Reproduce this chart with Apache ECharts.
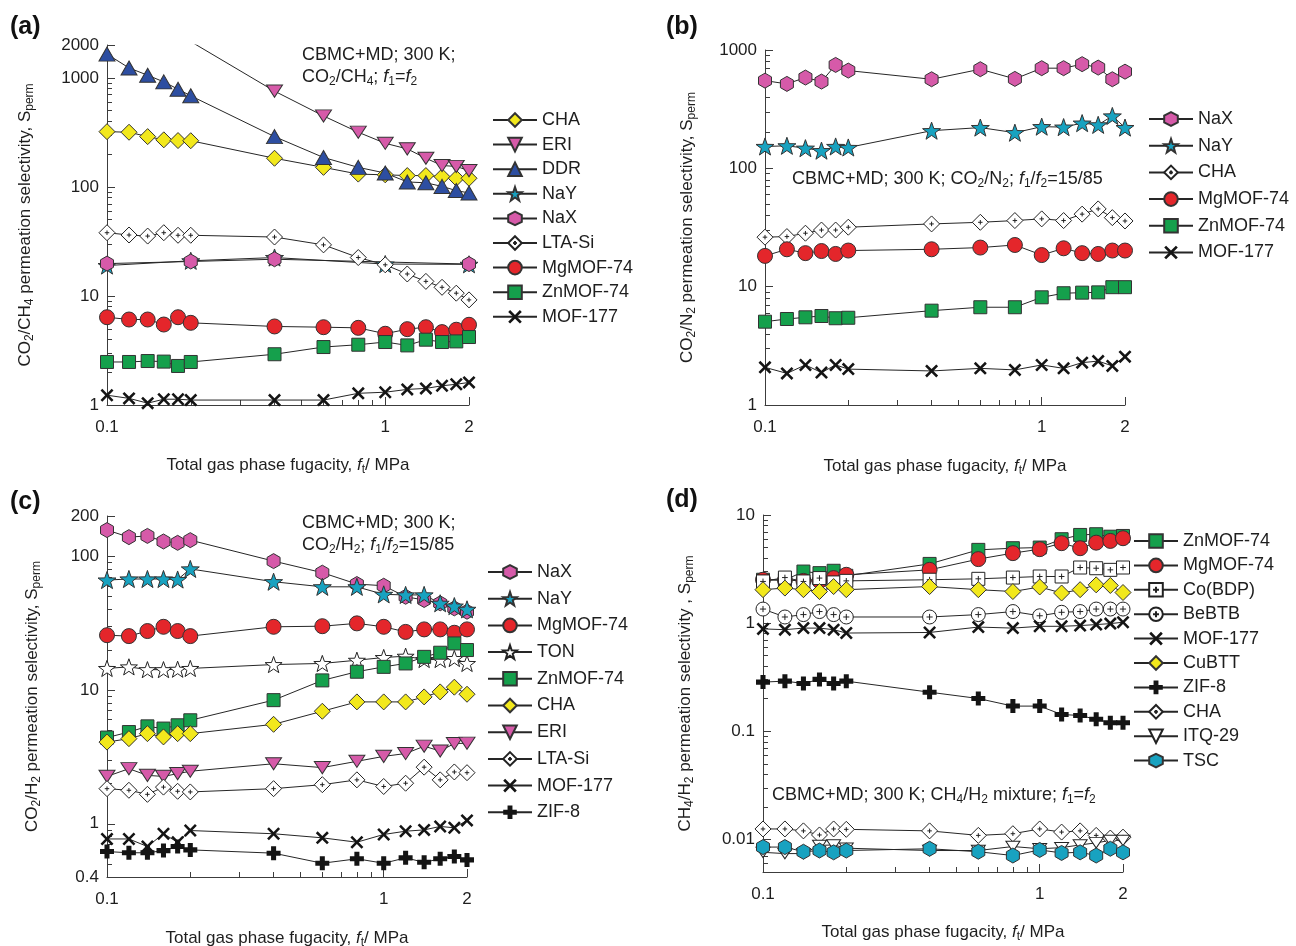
<!DOCTYPE html>
<html>
<head>
<meta charset="utf-8">
<script src="https://cdn.jsdelivr.net/npm/echarts@6/dist/echarts.min.js"></script>
<style>
  html, body { margin: 0; padding: 0; background: #ffffff; }
  #chart { width: 1296px; height: 946px; }
</style>
</head>
<body>
<div id="chart"></div>
<script>
// ---------- shared x values (total gas phase fugacity, MPa) ----------
const fugacity = [0.1, 0.12, 0.14, 0.16, 0.18, 0.2, 0.4, 0.6, 0.8, 1, 1.2, 1.4, 1.6, 1.8, 2];

// ---------- tick values ----------
const xMajorTicks = [0.1, 1, 2];
const xMinorTicks = [0.2, 0.3, 0.4, 0.5, 0.6, 0.7, 0.8, 0.9];
const aYMajor = [1, 10, 100, 1000, 2000];
const aYMinor = [2, 3, 4, 5, 6, 7, 8, 9, 20, 30, 40, 50, 60, 70, 80, 90, 200, 300, 400, 500, 600, 700, 800, 900];
const bYMajor = [1, 10, 100, 1000];
const bYMinor = [2, 3, 4, 5, 6, 7, 8, 9, 20, 30, 40, 50, 60, 70, 80, 90, 200, 300, 400, 500, 600, 700, 800, 900];
const cYMajor = [0.4, 1, 10, 100, 200];
const cYMinor = [0.5, 0.6, 0.7, 0.8, 0.9, 2, 3, 4, 5, 6, 7, 8, 9, 20, 30, 40, 50, 60, 70, 80, 90];
const dYMajor = [0.01, 0.1, 1, 10];
const dYMinor = [0.006, 0.007, 0.008, 0.009, 0.02, 0.03, 0.04, 0.05, 0.06, 0.07, 0.08, 0.09,
                 0.2, 0.3, 0.4, 0.5, 0.6, 0.7, 0.8, 0.9, 2, 3, 4, 5, 6, 7, 8, 9];

// ---------- (a) CO2/CH4, f1 = f2 ----------
const aCHA    = [321, 317, 289, 270, 266, 265, 183, 151, 131, 129, 127, 127, 124, 120, 120];
const aERIx   = [0.2, 0.4, 0.6, 0.8, 1, 1.2, 1.4, 1.6, 1.8, 2];
const aERI    = [2150, 755, 447, 317, 251, 223, 183, 157, 154, 141];
const aDDR    = [1650, 1232, 1056, 918, 787, 684, 289, 186, 151, 134, 111, 109, 101, 92.5, 88];
const aNaYx   = [0.1, 0.2, 0.4, 1, 2];
const aNaY    = [19, 21, 22.5, 19.6, 19.5];
const aNaXx   = [0.1, 0.2, 0.4, 2];
const aNaX    = [19.8, 20.7, 21.7, 19.6];
const aLTASi  = [38, 36.2, 35.4, 38, 36, 36, 34.7, 29.4, 22.5, 19.3, 15.9, 13.6, 12, 10.6, 9.2];
const aMgMOF  = [6.38, 6.08, 6.08, 5.47, 6.38, 5.67, 5.25, 5.17, 5.1, 4.5, 4.96, 5.17, 4.66, 4.9, 5.44];
const aZnMOF  = [2.48, 2.48, 2.53, 2.5, 2.28, 2.48, 2.92, 3.4, 3.57, 3.78, 3.52, 3.97, 3.78, 3.83, 4.2];
const aMOF177 = [1.23, 1.15, 1.04, 1.13, 1.13, 1.11, 1.11, 1.11, 1.28, 1.31, 1.39, 1.42, 1.5, 1.55, 1.61];

// ---------- (b) CO2/N2, f1/f2 = 15/85 ----------
const bNaX    = [551, 517, 585, 541, 748, 670, 566, 688, 570, 702, 702, 759, 710, 566, 656];
const bNaY    = [153, 155, 148, 141, 153, 150, 208, 221, 200, 225, 223, 241, 233, 277, 221];
const bCHA    = [26.2, 26.5, 28.3, 30.1, 30.1, 31.8, 33.9, 35, 36.2, 37.4, 36.2, 41, 45.4, 38.3, 35.9];
const bMgMOF  = [18.2, 20.7, 19.2, 20, 18.9, 20.2, 20.7, 21.4, 22.5, 18.5, 21.1, 19.2, 18.9, 20.2, 20.2];
const bZnMOF  = [5.06, 5.33, 5.51, 5.65, 5.41, 5.46, 6.27, 6.7, 6.7, 8.13, 8.8, 8.9, 8.95, 9.9, 9.9];
const bMOF177 = [2.08, 1.85, 2.18, 1.88, 2.18, 2.01, 1.94, 2.04, 1.98, 2.18, 2.04, 2.28, 2.35, 2.14, 2.56];

// ---------- (c) CO2/H2, f1/f2 = 15/85 ----------
const cNaX    = [157, 139, 142, 129, 126, 132, 92, 75.4, 62, 60.2, 49.8, 47.1, 44.5, 40.8, 38.5];
const cNaY    = [66.4, 67.6, 67.6, 67.6, 67, 80.4, 64.5, 59.1, 59.1, 51.9, 51.4, 51.4, 44.5, 42.4, 40.1];
const cMgMOF  = [25.7, 25.3, 27.6, 29.7, 27.6, 25.3, 29.7, 30, 31.5, 29.7, 27.2, 28.4, 28.4, 26.8, 28.4];
const cTON    = [14.5, 14.9, 14.2, 14.2, 14.3, 14.5, 15.5, 15.8, 16.7, 17.5, 17.9, 16.9, 16.9, 17.2, 15.8];
const cZnMOF  = [4.41, 4.85, 5.35, 5.15, 5.45, 5.94, 8.4, 11.8, 13.7, 14.9, 15.8, 17.7, 19, 22.3, 19.9];
const cCHA    = [4.08, 4.33, 4.72, 4.46, 4.72, 4.72, 5.54, 6.94, 8.15, 8.15, 8.15, 8.88, 9.68, 10.5, 9.3];
const cERI    = [2.26, 2.58, 2.3, 2.26, 2.37, 2.47, 2.81, 2.63, 2.93, 3.19, 3.35, 3.8, 3.5, 3.98, 4.0];
const cLTASi  = [1.83, 1.78, 1.66, 1.88, 1.75, 1.73, 1.83, 1.96, 2.13, 1.9, 2.01, 2.65, 2.13, 2.44, 2.41];
const cMOF177 = [0.77, 0.77, 0.676, 0.842, 0.728, 0.89, 0.842, 0.785, 0.728, 0.832, 0.88, 0.9, 0.955, 0.933, 1.06];
const cZIF8   = [0.62, 0.607, 0.607, 0.63, 0.676, 0.638, 0.603, 0.507, 0.547, 0.507, 0.556, 0.515, 0.547, 0.569, 0.537];

// ---------- (d) CH4/H2, f1 = f2 ----------
const dZnMOF  = [2.52, 2.5, 3.0, 2.9, 3.05, 2.74, 3.53, 4.76, 4.93, 5.0, 5.97, 6.54, 6.64, 6.3, 6.4];
const dMgMOF  = [2.52, 2.5, 2.46, 2.45, 2.61, 2.8, 3.11, 3.91, 4.44, 4.83, 5.49, 4.93, 5.55, 5.76, 6.1];
const dCoBDP  = [2.43, 2.64, 2.43, 2.61, 2.38, 2.46, 2.52, 2.57, 2.64, 2.7, 2.7, 3.27, 3.22, 3.11, 3.27];
const dBeBTB  = [1.35, 1.14, 1.2, 1.28, 1.2, 1.14, 1.14, 1.2, 1.28, 1.17, 1.26, 1.28, 1.35, 1.35, 1.35];
const dMOF177 = [0.885, 0.87, 0.9, 0.9, 0.87, 0.81, 0.82, 0.92, 0.9, 0.935, 0.935, 0.95, 0.97, 0.99, 1.02];
const dCuBTT  = [2.04, 2.11, 2.04, 1.96, 2.18, 2.04, 2.18, 2.04, 1.96, 2.16, 1.9, 2.04, 2.26, 2.23, 1.92];
const dZIF8   = [0.285, 0.291, 0.277, 0.302, 0.277, 0.291, 0.23, 0.201, 0.171, 0.171, 0.143, 0.14, 0.129, 0.12, 0.12];
const dCHA    = [0.0125, 0.0125, 0.012, 0.011, 0.0125, 0.0124, 0.012, 0.0109, 0.0113, 0.0125, 0.0117, 0.012, 0.0109, 0.0103, 0.0105];
const dITQ29  = [0.0076, 0.0074, 0.0074, 0.0088, 0.0089, 0.0083, 0.0079, 0.0079, 0.0086, 0.0082, 0.0084, 0.0089, 0.0093, 0.0098, 0.0098];
const dTSC    = [0.0085, 0.0085, 0.0077, 0.0079, 0.0076, 0.0079, 0.0082, 0.0077, 0.0071, 0.008, 0.0075, 0.0076, 0.0071, 0.0082, 0.0076];

// ---------- styling ----------
const FONT = "'Liberation Sans', Arial, Helvetica, sans-serif";
const INK = '#1e1e1e';
const AXIS = '#3c3c3c';
const YELLOW = '#f2e81c', PINK = '#d65aa9', BLUE = '#2d4ea1', TEAL = '#18a2c0', RED = '#e4262b', GREEN = '#15a04c';

function polygonPath(pts) {
  return 'path://' + pts.map((p, i) => (i ? 'L' : 'M') + p[0].toFixed(2) + ',' + p[1].toFixed(2)).join('') + 'Z';
}
function starPts(n, rOut, rIn) {
  const pts = [];
  for (let i = 0; i < 2 * n; i++) {
    const r = i % 2 ? rIn : rOut;
    const t = -Math.PI / 2 + i * Math.PI / n;
    pts.push([50 + r * Math.cos(t), 50 + r * Math.sin(t)]);
  }
  return pts;
}
const STAR = polygonPath(starPts(5, 50, 20));
const HEX = polygonPath([[50, 0], [93.3, 25], [93.3, 75], [50, 100], [6.7, 75], [6.7, 25]]);
const DOWN = 'path://M0,0L100,0L50,87Z';
const XMARK = 'path://M0,14L14,0L50,36L86,0L100,14L64,50L100,86L86,100L50,64L14,100L0,86L36,50Z';
const THICKPLUS = 'path://M32,0L68,0L68,32L100,32L100,68L68,68L68,100L32,100L32,68L0,68L0,32L32,32Z';
const DIAPLUS = 'path://M50,0L100,50L50,100L0,50Z M50,36L50,64 M36,50L64,50';
const SQPLUS = 'path://M0,0L100,0L100,100L0,100Z M50,28L50,72 M28,50L72,50';
const CIRCPLUS = 'path://M0,50A50,50,0,1,1,100,50A50,50,0,1,1,0,50Z M50,28L50,72 M28,50L72,50';

const MARK = {
  yellowDiamond: { symbol: 'diamond', size: 16, fill: YELLOW },
  pinkDown:      { symbol: DOWN, size: [16, 14], fill: PINK },
  blueUp:        { symbol: 'triangle', size: [16, 14], fill: BLUE },
  tealStar:      { symbol: STAR, size: 18, fill: TEAL },
  pinkHex:       { symbol: HEX, size: 15, fill: PINK },
  whiteDiaPlus:  { symbol: DIAPLUS, size: 16, fill: '#ffffff', border: '#222' },
  redCircle:     { symbol: 'circle', size: 15, fill: RED },
  greenSquare:   { symbol: 'rect', size: 13, fill: GREEN },
  blackX:        { symbol: XMARK, size: 13, fill: '#141414', border: '#141414', bw: 0 },
  whiteStar:     { symbol: STAR, size: 17, fill: '#ffffff', border: '#222' },
  blackPlus:     { symbol: THICKPLUS, size: 14, fill: '#141414', border: '#141414', bw: 0 },
  whiteSqPlus:   { symbol: SQPLUS, size: 13, fill: '#ffffff', border: '#222' },
  whiteCircPlus: { symbol: CIRCPLUS, size: 14, fill: '#ffffff', border: '#222' },
  whiteDown:     { symbol: DOWN, size: [14, 12], fill: '#ffffff', border: '#222' },
  tealHex:       { symbol: HEX, size: 15, fill: TEAL }
};

// ---------- series ----------
const PANELS = ['a', 'b', 'c', 'd'];
const series = [];
const legendNames = [[], [], [], []];
function addSeries(panel, label, xs, ys, mk) {
  const g = PANELS.indexOf(panel);
  const name = panel + ':' + label;
  legendNames[g].push(name);
  series.push({
    type: 'line',
    name: name,
    xAxisIndex: 2 * g,
    yAxisIndex: 2 * g,
    data: xs.map((x, i) => [x, ys[i]]),
    symbol: mk.symbol,
    symbolSize: mk.size,
    symbolKeepAspect: true,
    showAllSymbol: true,
    clip: true,
    itemStyle: { color: mk.fill, borderColor: mk.border || '#333', borderWidth: mk.bw === undefined ? 1 : mk.bw, opacity: 1 },
    lineStyle: { color: '#262626', width: 1 },
    emphasis: { disabled: true },
    animation: false
  });
}

addSeries('a', 'CHA', fugacity, aCHA, MARK.yellowDiamond);
addSeries('a', 'ERI', aERIx, aERI, MARK.pinkDown);
addSeries('a', 'DDR', fugacity, aDDR, MARK.blueUp);
addSeries('a', 'NaY', aNaYx, aNaY, MARK.tealStar);
addSeries('a', 'NaX', aNaXx, aNaX, MARK.pinkHex);
addSeries('a', 'LTA-Si', fugacity, aLTASi, MARK.whiteDiaPlus);
addSeries('a', 'MgMOF-74', fugacity, aMgMOF, MARK.redCircle);
addSeries('a', 'ZnMOF-74', fugacity, aZnMOF, MARK.greenSquare);
addSeries('a', 'MOF-177', fugacity, aMOF177, MARK.blackX);

addSeries('b', 'NaX', fugacity, bNaX, MARK.pinkHex);
addSeries('b', 'NaY', fugacity, bNaY, MARK.tealStar);
addSeries('b', 'CHA', fugacity, bCHA, MARK.whiteDiaPlus);
addSeries('b', 'MgMOF-74', fugacity, bMgMOF, MARK.redCircle);
addSeries('b', 'ZnMOF-74', fugacity, bZnMOF, MARK.greenSquare);
addSeries('b', 'MOF-177', fugacity, bMOF177, MARK.blackX);

addSeries('c', 'NaX', fugacity, cNaX, MARK.pinkHex);
addSeries('c', 'NaY', fugacity, cNaY, MARK.tealStar);
addSeries('c', 'MgMOF-74', fugacity, cMgMOF, MARK.redCircle);
addSeries('c', 'TON', fugacity, cTON, MARK.whiteStar);
addSeries('c', 'ZnMOF-74', fugacity, cZnMOF, MARK.greenSquare);
addSeries('c', 'CHA', fugacity, cCHA, MARK.yellowDiamond);
addSeries('c', 'ERI', fugacity, cERI, MARK.pinkDown);
addSeries('c', 'LTA-Si', fugacity, cLTASi, MARK.whiteDiaPlus);
addSeries('c', 'MOF-177', fugacity, cMOF177, MARK.blackX);
addSeries('c', 'ZIF-8', fugacity, cZIF8, MARK.blackPlus);

addSeries('d', 'ZnMOF-74', fugacity, dZnMOF, MARK.greenSquare);
addSeries('d', 'MgMOF-74', fugacity, dMgMOF, MARK.redCircle);
addSeries('d', 'Co(BDP)', fugacity, dCoBDP, MARK.whiteSqPlus);
addSeries('d', 'BeBTB', fugacity, dBeBTB, MARK.whiteCircPlus);
addSeries('d', 'MOF-177', fugacity, dMOF177, MARK.blackX);
addSeries('d', 'CuBTT', fugacity, dCuBTT, MARK.yellowDiamond);
addSeries('d', 'ZIF-8', fugacity, dZIF8, MARK.blackPlus);
addSeries('d', 'CHA', fugacity, dCHA, MARK.whiteDiaPlus);
addSeries('d', 'ITQ-29', fugacity, dITQ29, MARK.whiteDown);
addSeries('d', 'TSC', fugacity, dTSC, MARK.tealHex);

// ---------- text helpers ----------
function richFor(size, colorKey) {
  const c = {}; c[colorKey] = INK;
  return {
    it:  Object.assign({ fontSize: size, fontFamily: FONT, fontStyle: 'italic', lineHeight: 22 }, c),
    sub: Object.assign({ fontSize: Math.round(size * 0.68), fontFamily: FONT, verticalAlign: 'bottom', lineHeight: 12 }, c)
  };
}
const fmtTick = v => String(+(+v).toPrecision(6));

const X_TITLE = 'Total gas phase fugacity, {it|f}{sub|t}/ MPa';
const Y_TITLES = [
  'CO{sub|2}/CH{sub|4} permeation selectivity, S{sub|perm}',
  'CO{sub|2}/N{sub|2} permeation selectivity, S{sub|perm}',
  'CO{sub|2}/H{sub|2} permeation selectivity, S{sub|perm}',
  'CH{sub|4}/H{sub|2} permeation selectivity , S{sub|perm}'
];

// ---------- grids & axes ----------
const GRIDS = [
  { left: 107, top: 45,  width: 362, height: 360 },
  { left: 765, top: 50,  width: 360, height: 355 },
  { left: 107, top: 516, width: 360, height: 361 },
  { left: 763, top: 515, width: 360, height: 357 }
];
const Y_RANGES = [
  { min: 1,     max: 2000, major: aYMajor, minor: aYMinor, gap: 71 },
  { min: 1,     max: 1000, major: bYMajor, minor: bYMinor, gap: 67 },
  { min: 0.4,   max: 200,  major: cYMajor, minor: cYMinor, gap: 64 },
  { min: 0.005, max: 10,   major: dYMajor, minor: dYMinor, gap: 67 }
];
const X_NAME_GAP = [49, 50, 50, 49];

const nameStyle = { fontSize: 17, fontFamily: FONT, color: INK, lineHeight: 22, rich: richFor(17, 'color') };
const labelStyle = { fontSize: 17, fontFamily: FONT, color: INK };

const xAxis = [], yAxis = [];
GRIDS.forEach((g, i) => {
  xAxis.push({
    type: 'log', logBase: 10, gridIndex: i, position: 'bottom', min: 0.1, max: 2,
    axisLine: { show: true, onZero: false, lineStyle: { color: AXIS, width: 1 } },
    axisTick: { show: true, inside: true, length: 8, customValues: xMajorTicks, lineStyle: { color: AXIS, width: 1 } },
    axisLabel: Object.assign({ show: true, customValues: xMajorTicks, formatter: fmtTick, margin: 14 }, labelStyle),
    splitLine: { show: false },
    name: X_TITLE, nameLocation: 'middle', nameGap: X_NAME_GAP[i], nameTextStyle: nameStyle, nameMoveOverlap: false
  });
  xAxis.push({
    type: 'log', logBase: 10, gridIndex: i, position: 'bottom', min: 0.1, max: 2,
    axisLine: { show: false },
    axisTick: { show: true, inside: true, length: 5, customValues: xMinorTicks, lineStyle: { color: AXIS, width: 1 } },
    axisLabel: { show: false },
    splitLine: { show: false }
  });
  const r = Y_RANGES[i];
  yAxis.push({
    type: 'log', logBase: 10, gridIndex: i, position: 'left', min: r.min, max: r.max,
    axisLine: { show: true, onZero: false, lineStyle: { color: AXIS, width: 1 } },
    axisTick: { show: true, inside: true, length: 8, customValues: r.major, lineStyle: { color: AXIS, width: 1 } },
    axisLabel: Object.assign({ show: true, customValues: r.major, formatter: fmtTick, margin: 8 }, labelStyle),
    splitLine: { show: false },
    name: Y_TITLES[i], nameLocation: 'middle', nameRotate: 90, nameGap: r.gap, nameTextStyle: nameStyle, nameMoveOverlap: false
  });
  yAxis.push({
    type: 'log', logBase: 10, gridIndex: i, position: 'left', min: r.min, max: r.max,
    axisLine: { show: false },
    axisTick: { show: true, inside: true, length: 5, customValues: r.minor, lineStyle: { color: AXIS, width: 1 } },
    axisLabel: { show: false },
    splitLine: { show: false }
  });
});

// ---------- legends ----------
const LEGEND_POS = [
  { left: 492,  top: 111, gap: 6.6 },
  { left: 1148, top: 110, gap: 8.7 },
  { left: 487,  top: 563, gap: 8.7 },
  { left: 1133, top: 532, gap: 6.4 }
];
const legend = LEGEND_POS.map((p, i) => ({
  orient: 'vertical', left: p.left, top: p.top, itemGap: p.gap,
  itemWidth: 44, itemHeight: 17, padding: 0, selectedMode: false,
  data: legendNames[i],
  formatter: n => n.slice(2),
  textStyle: { fontSize: 18, fontFamily: FONT, color: INK }
}));

// ---------- panel letters and condition notes ----------
function note(left, top, text) {
  return {
    type: 'text', left: left, top: top, silent: true,
    style: { text: text, fontSize: 18, fontFamily: FONT, fill: INK, lineHeight: 22, rich: richFor(18, 'fill') }
  };
}
function letter(left, top, text) {
  return { type: 'text', left: left, top: top, silent: true,
    style: { text: text, fontSize: 25, fontWeight: 'bold', fontFamily: FONT, fill: '#111' } };
}
const graphic = [
  letter(10, 15, '(a)'), letter(666, 15, '(b)'), letter(10, 490, '(c)'), letter(666, 488, '(d)'),
  note(302, 44, 'CBMC+MD; 300 K;\nCO{sub|2}/CH{sub|4}; {it|f}{sub|1}={it|f}{sub|2}'),
  note(792, 168, 'CBMC+MD; 300 K; CO{sub|2}/N{sub|2}; {it|f}{sub|1}/{it|f}{sub|2}=15/85'),
  note(302, 512, 'CBMC+MD; 300 K;\nCO{sub|2}/H{sub|2}; {it|f}{sub|1}/{it|f}{sub|2}=15/85'),
  note(772, 784, 'CBMC+MD; 300 K; CH{sub|4}/H{sub|2} mixture; {it|f}{sub|1}={it|f}{sub|2}')
];

const chart = echarts.init(document.getElementById('chart'), null, { renderer: 'canvas' });
chart.setOption({
  animation: false,
  backgroundColor: '#ffffff',
  grid: GRIDS.map(g => Object.assign({ outerBoundsMode: 'none', containLabel: false, show: false }, g)),
  xAxis: xAxis,
  yAxis: yAxis,
  legend: legend,
  graphic: graphic,
  series: series
});
</script>
</body>
</html>
